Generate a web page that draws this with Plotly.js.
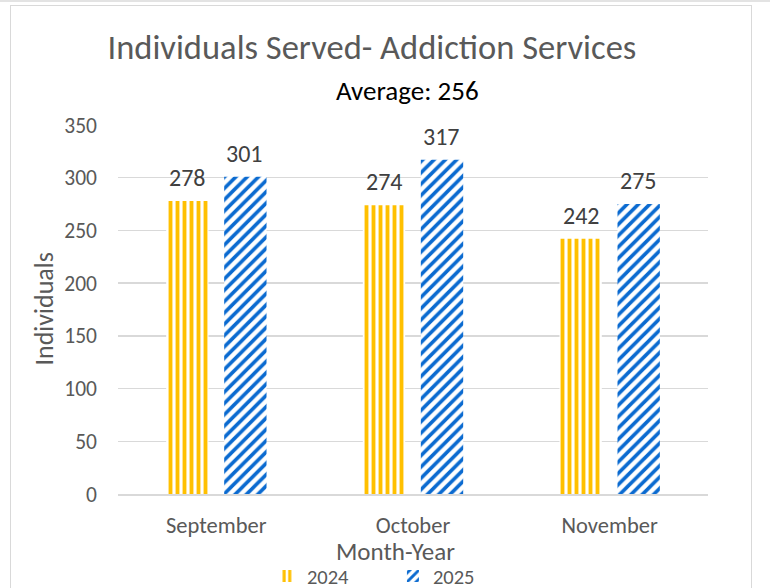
<!DOCTYPE html>
<html><head><meta charset="utf-8">
<script src="https://cdn.plot.ly/plotly-3.0.1.min.js"></script>
<style>
html,body{margin:0;padding:0;background:#fff;overflow:hidden;}
#frame{position:absolute;left:10px;top:5px;width:742px;height:600px;border:1.5px solid #d9d9d9;box-sizing:border-box;}
#topline{position:absolute;left:0;top:0;width:770px;height:2px;background:#e3e3e3;}
#chart{position:absolute;left:0;top:0;width:770px;height:588px;}
</style></head>
<body>
<div id="topline"></div>
<div id="frame"></div>
<div id="chart"></div>
<script>
const categories = ["September", "October", "November"];
const values2024 = [278, 274, 242];
const values2025 = [301, 317, 275];
const seriesNames = ["2024", "2025"];
const yTicks = [0, 50, 100, 150, 200, 250, 300, 350];

const font = "Calibri, Carlito, 'Open Sans', sans-serif";
const traces = [
  {type:"bar", name:seriesNames[0], x:categories, y:values2024,
   marker:{color:"#ffffff", line:{width:0},
     pattern:{shape:"|", fgcolor:"#FFC000", bgcolor:"#ffffff", size:7, solidity:0.55, fillmode:"replace"}}},
  {type:"bar", name:seriesNames[1], x:categories, y:values2025,
   marker:{color:"#ffffff", line:{width:0},
     pattern:{shape:"/", fgcolor:"#0A6AD0", bgcolor:"#ffffff", size:8, solidity:0.45, fillmode:"replace"}}}
];
const groupOffset = 28.5;
const labelAnns = [];
[values2024, values2025].forEach((vals, s) => {
  vals.forEach((v, i) => labelAnns.push({
    text:String(v), xref:"x", yref:"y", x:categories[i], y:v, xshift:(s === 0 ? -1 : 1) * groupOffset,
    yanchor:"bottom", yshift:7, showarrow:false, font:{size:24, color:"#404040", family:font}
  }));
});
const layout = {
  width:770, height:588,
  paper_bgcolor:"rgba(0,0,0,0)", plot_bgcolor:"rgba(0,0,0,0)",
  margin:{l:118, r:62, t:125, b:94},
  font:{family:font, color:"#595959"},
  title:{text:"Individuals Served- Addiction Services", font:{size:34.5, color:"#595959", family:font},
    x:0.483, xanchor:"center", y:0.92, yanchor:"middle"},
  barmode:"group", bargap:0.41, bargroupgap:0.27,
  xaxis:{type:"category", automargin:false, tickfont:{size:22.5, color:"#595959"}, showline:true, linecolor:"#d9d9d9", linewidth:1.5,
    ticks:"", ticklabelstandoff:10},
  yaxis:{range:[0,350], automargin:false, tickvals:yTicks, ticktext:yTicks.map(String), tickfont:{size:21.5, color:"#595959"},
    showgrid:true, gridcolor:"#d9d9d9", gridwidth:1.5, zeroline:false, showline:false, ticks:"",
    ticklabelstandoff:20},
  legend:{orientation:"h", x:0.466, xanchor:"center", yref:"container", y:0.02, yanchor:"middle",
    font:{size:20.5, color:"#595959"}, itemwidth:30, tracegroupgap:0, entrywidth:81},
  annotations:[
    {text:"Average: 256", xref:"paper", yref:"paper", x:0.49, y:1.0, yanchor:"middle", yshift:35,
     showarrow:false, font:{size:27, color:"#000000", family:font}},
    {text:"Month-Year", xref:"paper", yref:"paper", x:0.471, y:0, yanchor:"middle", yshift:-57,
     showarrow:false, font:{size:25, color:"#595959", family:font}},
    {text:"Individuals", xref:"paper", yref:"paper", x:0, y:0.5, xanchor:"center", yanchor:"middle", xshift:-75,
     textangle:-90, showarrow:false, font:{size:26, color:"#595959", family:font}}
  ].concat(labelAnns),
  showlegend:true
};
Plotly.newPlot("chart", traces, layout, {staticPlot:true, displayModeBar:false});
</script>
</body></html>
